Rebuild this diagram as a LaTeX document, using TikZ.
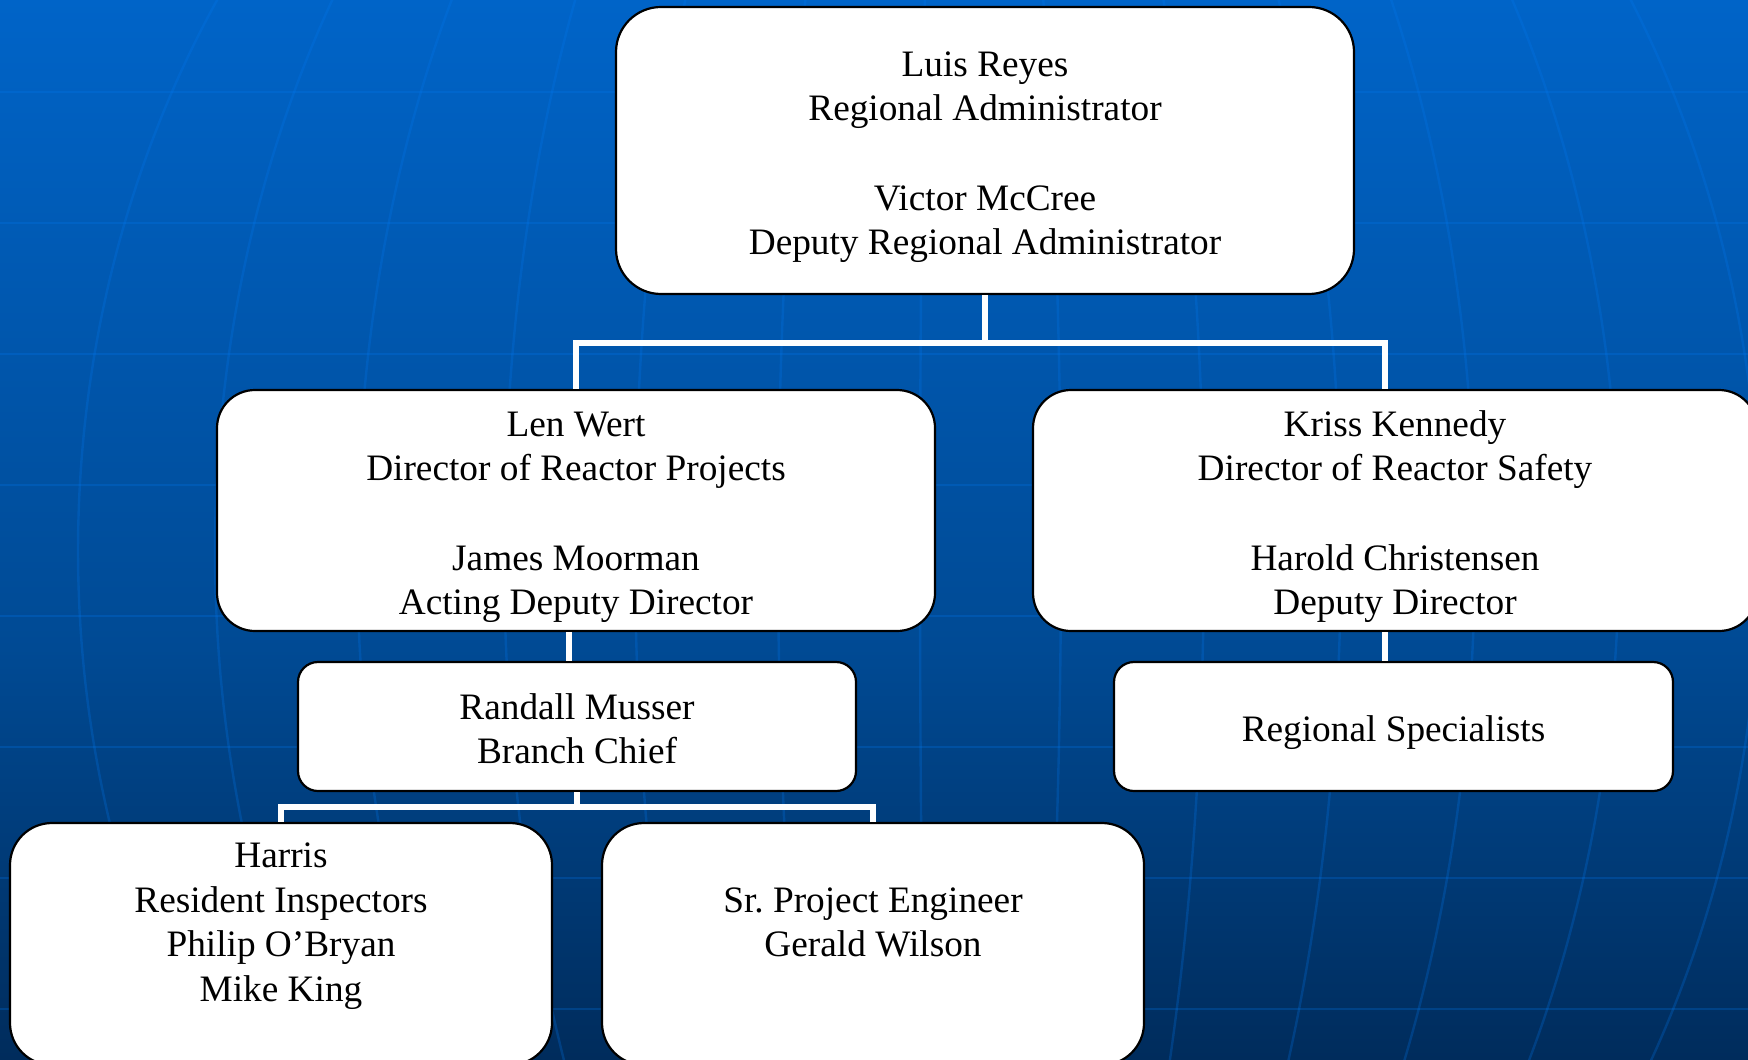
\documentclass[tikz,border=0pt]{standalone}
\usepackage{fontspec}
\setmainfont{Liberation Serif}
\definecolor{bgtop}{RGB}{0,100,200}
\definecolor{bgmid}{RGB}{0,74,148}
\definecolor{bgbot}{RGB}{0,44,92}
\definecolor{gridc}{RGB}{0,120,240}
\newcommand{\orgfont}{\fontsize{18.65pt}{22.3pt}\selectfont\frenchspacing}
\newcommand{\topstr}{\rule{0pt}{20pt}}
\newcommand{\botstr}{\rule[-5pt]{0pt}{5pt}}
\begin{document}
\begin{tikzpicture}[x=0.5pt, y=-0.5pt,
  orgbox/.style={draw=black, line width=1.1pt, fill=white, align=center, inner sep=0pt, font=\orgfont, text=black},
  orgtext/.style={align=center, inner sep=0pt, font=\orgfont, text=black},
  conn/.style={draw=white, line width=3pt, line join=miter},
  gridline/.style={draw=gridc, opacity=0.25, line width=1.2pt}]
\useasboundingbox (0,0) rectangle (1748,1059);
\clip (0,0) rectangle (1748,1059);
% background
\shade[top color=bgtop, bottom color=bgmid] (0,0) rectangle (1748,649);
\shade[top color=bgmid, bottom color=bgbot] (0,648) rectangle (1748,1059);
\foreach \yy in {92,223,354,485,616,747,878,1009}
  \draw[gridline] (0,\yy) -- (1748,\yy);
\foreach \R in {111,254,391,525,669,810}
  \draw[gridline] plot[domain=-90:90, samples=90, smooth] ({950+\R*cos(\x)}, {551+1017*sin(\x)});
\foreach \R in {30,172,315,446,593,735,872}
  \draw[gridline] plot[domain=-90:90, samples=90, smooth] ({950-\R*cos(\x)}, {551+1017*sin(\x)});
% boxes
\node[orgbox, minimum width=369pt, minimum height=143.5pt, rounded corners=22.5pt] (top) at (985,150.5)
  {\topstr Luis Reyes\\Regional Administrator\\[22.3pt]Victor McCree\\Deputy Regional Administrator\botstr};
\node[orgbox, minimum width=359pt, minimum height=120.5pt, rounded corners=19pt] (len) at (576,510.5)
  {\topstr Len Wert\\Director of Reactor Projects\\[22.3pt]James Moorman\\Acting Deputy Director\botstr};
\node[orgbox, minimum width=362pt, minimum height=120.5pt, rounded corners=19pt] (kriss) at (1395,510.5)
  {\topstr Kriss Kennedy\\Director of Reactor Safety\\[22.3pt]Harold Christensen\\Deputy Director\botstr};
\node[orgbox, minimum width=279pt, minimum height=64.5pt, rounded corners=10pt] (randall) at (577,726.5)
  {\topstr Randall Musser\\Branch Chief\botstr};
\node[orgbox, minimum width=279.5pt, minimum height=64.5pt, rounded corners=10pt] (regional) at (1393.5,726.5)
  {\topstr Regional Specialists\botstr};
\node[orgbox, minimum width=271pt, minimum height=121pt, rounded corners=21pt] (harris) at (281,944) {};
\node[orgbox, minimum width=271pt, minimum height=121pt, rounded corners=21pt] (sr) at (873,944) {};
\node[orgtext] (harristext) at (281,919.5)
  {\topstr Harris\\Resident Inspectors\\Philip O’Bryan\\Mike King\botstr};
\node[orgtext] (srtext) at (873,919.5)
  {\topstr Sr. Project Engineer\\Gerald Wilson\botstr};
% connectors
\coordinate (bus1) at (985,343);
\coordinate (bus2) at (577,807);
\draw[conn] (top.south) -- (bus1);
\draw[conn] (len.north) |- (bus1) -| ([xshift=-5pt]kriss.north);
\draw[conn] ([xshift=-3.5pt]len.south) -- ([xshift=-3.5pt]len.south |- randall.north);
\draw[conn] ([xshift=-5pt]kriss.south) -- ([xshift=-5pt]kriss.south |- regional.north);
\draw[conn] (randall.south) -- (bus2);
\draw[conn] (harris.north) |- (bus2) -| (sr.north);
\end{tikzpicture}
\end{document}
